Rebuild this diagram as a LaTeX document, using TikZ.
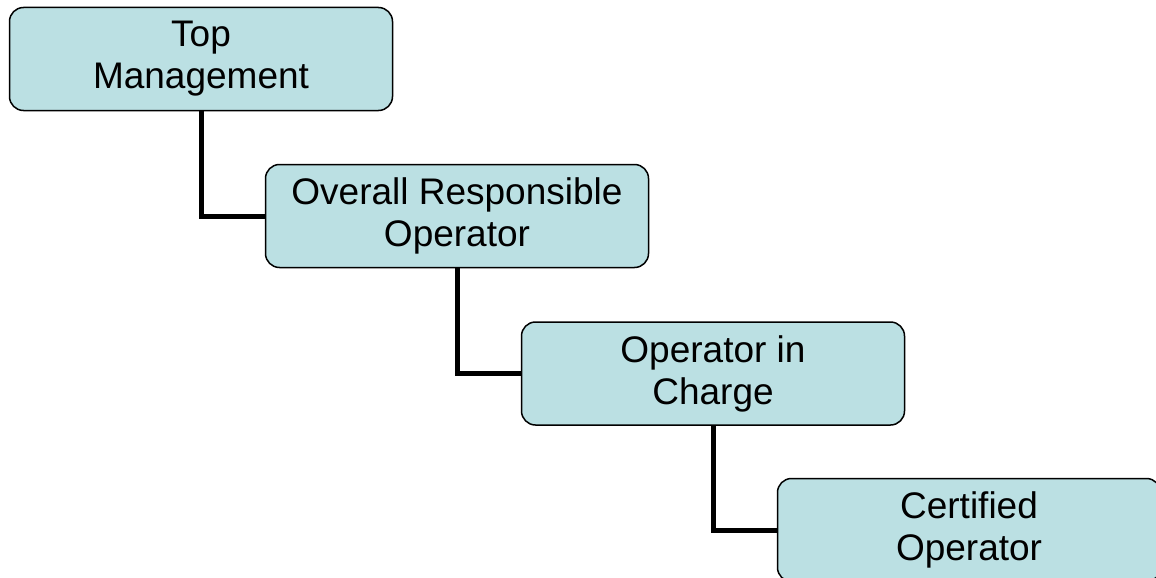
\documentclass[tikz,border=0pt]{standalone}
\usepackage{fontspec}
\setmainfont{Liberation Sans}
\definecolor{boxfill}{HTML}{BBE0E3}
\tikzset{
  orgbox/.style={draw=black, line width=1.5pt, fill=boxfill, rounded corners=14pt,
    minimum width=383pt, minimum height=103pt, align=center, inner sep=0pt,
    font=\fontsize{37}{42}\selectfont},
  link/.style={draw=black, line width=5pt}
}
\begin{document}
\begin{tikzpicture}[x=1pt,y=-1pt]
\useasboundingbox (0,0) rectangle (1156,578);
\begin{scope}
\clip (0,0) rectangle (1156,578);
\node[orgbox] (b1) at (201,59) {Top\\Management};
\node[orgbox] (b2) at (457,216) {Overall Responsible\\Operator};
\node[orgbox] (b3) at (713,373.5) {Operator in\\Charge};
\node[orgbox] (b4) at (969,530) {Certified\\Operator};
\draw[link] (b1.south) |- (b2.west);
\draw[link] (b2.south) |- (b3.west);
\draw[link] (b3.south) |- (b4.west);
\end{scope}
\end{tikzpicture}
\end{document}
